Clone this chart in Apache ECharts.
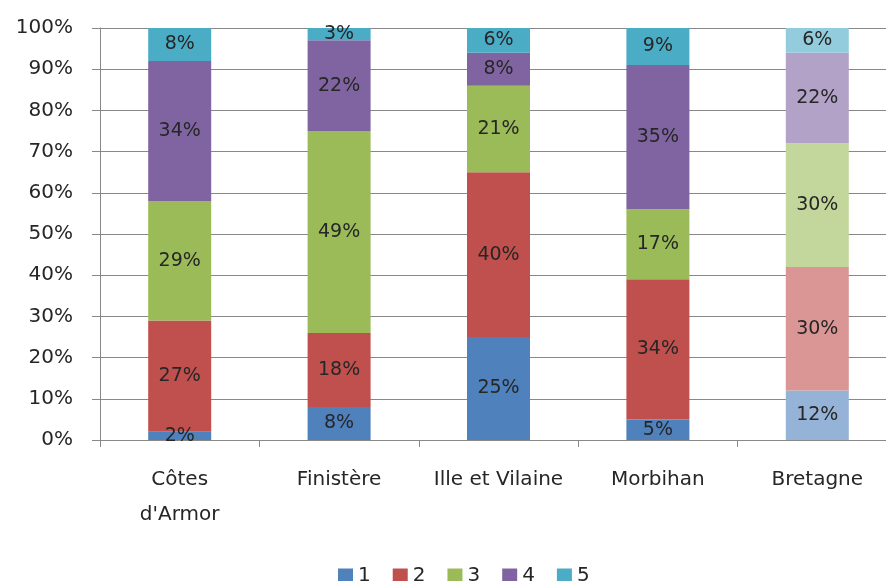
<!DOCTYPE html>
<html>
<head>
<meta charset="utf-8">
<script src="https://cdn.jsdelivr.net/npm/echarts@6/dist/echarts.min.js"></script>
<style>
  html, body { margin: 0; padding: 0; background: #ffffff; overflow: hidden; }
  /* the plot runs a little past the right edge of the window */
  #chart { width: 897px; height: 581px; }
</style>
</head>
<body>
<div id="chart"></div>
<script>
// Departments of Brittany plus the regional total
const categories = ["Côtes\nd'Armor", "Finistère", "Ille et Vilaine", "Morbihan", "Bretagne"];
const seriesNames = ["1", "2", "3", "4", "5"];

// Share (%) of each class per department
const s1 = [2, 8, 25, 5, 12];
const s2 = [27, 18, 40, 34, 30];
const s3 = [29, 49, 21, 17, 30];
const s4 = [34, 22, 8, 35, 22];
const s5 = [8, 3, 6, 9, 6];

const yTicks = [0, 10, 20, 30, 40, 50, 60, 70, 80, 90, 100];

// Palette: departments use the strong tone, the regional total a lighter one
const strongColors = ['#4F81BD', '#C0504D', '#9BBB59', '#8064A2', '#4BACC6'];
const lightColors = ['#95B3D7', '#D99694', '#C3D69B', '#B3A2C7', '#93CDDD'];
const lightIndex = 4;

const values = [s1, s2, s3, s4, s5];
const font = '"DejaVu Sans", sans-serif';
const textColor = '#262626';

const chart = echarts.init(document.getElementById('chart'), null, { renderer: 'canvas' });

const series = seriesNames.map((name, i) => ({
  name: name,
  type: 'bar',
  stack: 'total',
  barWidth: 63,
  itemStyle: { color: strongColors[i] },
  label: {
    show: true,
    position: 'inside',
    formatter: '{c}%',
    color: textColor,
    fontFamily: font,
    fontSize: 19
  },
  data: values[i].map((v, j) => j === lightIndex
    ? { value: v, itemStyle: { color: lightColors[i] } }
    : v)
}));

chart.setOption({
  animation: false,
  backgroundColor: '#ffffff',
  grid: { left: 100, top: 28, right: 0, bottom: 141 },
  legend: {
    data: seriesNames,
    left: 333,
    top: 561,
    itemWidth: 15,
    itemHeight: 15,
    itemGap: 22,
    icon: 'rect',
    textStyle: { fontFamily: font, fontSize: 20, color: textColor }
  },
  xAxis: {
    type: 'category',
    data: categories,
    axisLine: { show: true, lineStyle: { color: '#888888', width: 1 } },
    axisTick: { show: true, length: 7, lineStyle: { color: '#888888' } },
    axisLabel: {
      margin: 22,
      fontFamily: font,
      fontSize: 20,
      color: textColor,
      lineHeight: 35,
      interval: 0
    }
  },
  yAxis: {
    type: 'value',
    min: yTicks[0],
    max: yTicks[yTicks.length - 1],
    interval: 10,
    axisLine: { show: true, lineStyle: { color: '#888888', width: 1 } },
    axisTick: { show: true, length: 8, lineStyle: { color: '#888888' } },
    splitLine: { show: true, lineStyle: { color: '#888888', width: 1 } },
    axisLabel: {
      formatter: '{value}%',
      margin: 27,
      fontFamily: font,
      fontSize: 20,
      color: textColor
    }
  },
  series: series
});
</script>
</body>
</html>
